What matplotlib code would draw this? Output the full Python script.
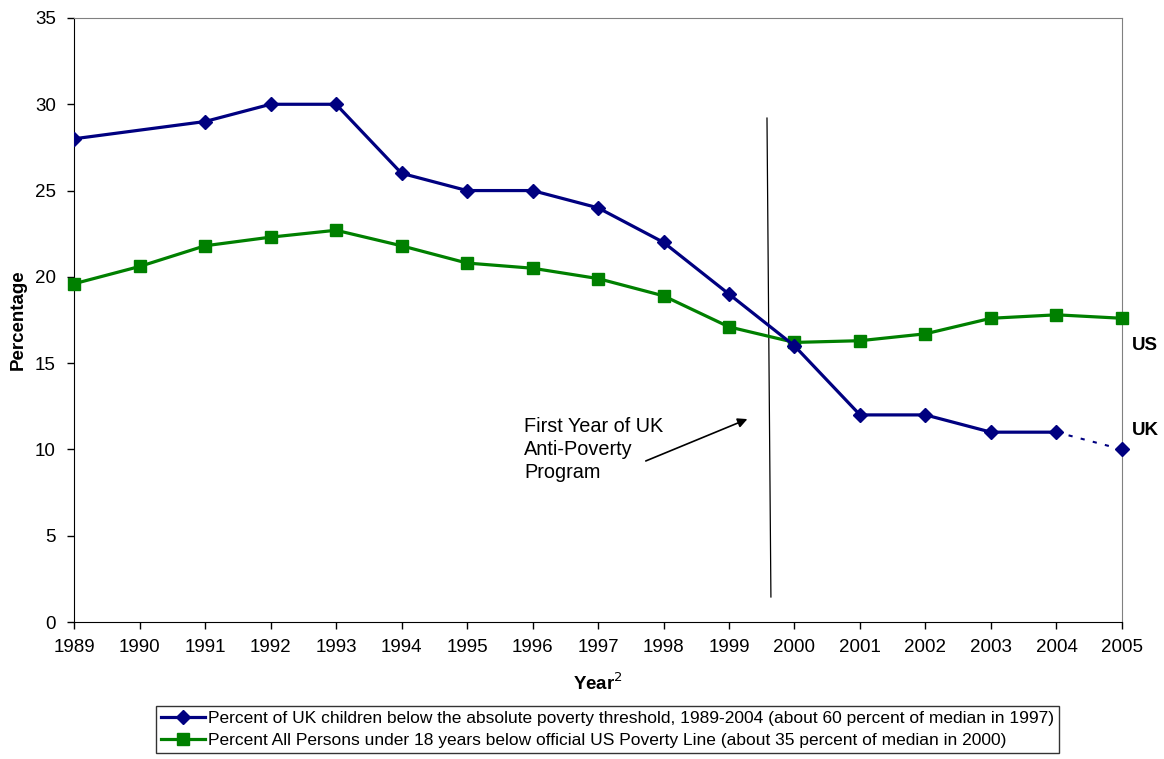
import numpy as np
import matplotlib.pyplot as plt

plt.rcParams['font.family'] = ['Liberation Sans', 'DejaVu Sans']

years = [1989, 1990, 1991, 1992, 1993, 1994, 1995, 1996, 1997,
         1998, 1999, 2000, 2001, 2002, 2003, 2004, 2005]

# UK series: no 1990 point, 2005 shown as a dotted projection
uk_years = [1989, 1991, 1992, 1993, 1994, 1995, 1996, 1997,
            1998, 1999, 2000, 2001, 2002, 2003, 2004]
uk_values = [28, 29, 30, 30, 26, 25, 25, 24, 22, 19, 16, 12, 12, 11, 11]
uk_proj_years = [2004, 2005]
uk_proj_values = [11, 10]

us_values = [19.6, 20.6, 21.8, 22.3, 22.7, 21.8, 20.8, 20.5, 19.9,
             18.9, 17.1, 16.2, 16.3, 16.7, 17.6, 17.8, 17.6]

uk_label = ("Percent of UK children below the absolute poverty threshold, "
            "1989-2004 (about 60 percent of median in 1997)")
us_label = ("Percent All Persons under 18 years below official US Poverty "
            "Line (about 35 percent of median in 2000)")

navy = '#000080'
green = '#008000'
fs = 13.5

fig = plt.figure(figsize=(11.64, 7.59), dpi=100)
ax = fig.add_axes([0.0636, 0.1805, 0.9003, 0.7958])

ax.plot(uk_years, uk_values, color=navy, lw=2.3, marker='D', ms=7.5,
        label=uk_label, zorder=4)
ax.plot(uk_proj_years, uk_proj_values, color=navy, lw=1.5, ls=(0, (2, 4)),
        zorder=3)
ax.plot(uk_proj_years[1:], uk_proj_values[1:], color=navy, ls='none',
        marker='D', ms=7.5, zorder=4, clip_on=False)
ax.plot(years, us_values, color=green, lw=2.3, marker='s', ms=9,
        label=us_label, zorder=3, clip_on=False)

# program start marker line and note
ax.plot([1999.58, 1999.64], [29.2, 1.45], color='black', lw=0.9, zorder=2)
ax.annotate('', xy=(1999.32, 11.82), xytext=(1997.69, 9.27),
            arrowprops=dict(arrowstyle='-|>', color='black', lw=1.2,
                            mutation_scale=14))
ax.text(1995.87, 11.9, 'First Year of UK\nAnti-Poverty\nProgram',
        fontsize=14.3, va='top', ha='left', linespacing=1.28)

ax.text(2005.15, 16.0, 'US', fontsize=fs, fontweight='bold',
        va='center', ha='left', clip_on=False)
ax.text(2005.15, 11.1, 'UK', fontsize=fs, fontweight='bold',
        va='center', ha='left', clip_on=False)

ax.set_xlim(1989, 2005)
ax.set_ylim(0, 35)
ax.set_xticks(years)
ax.set_yticks(np.arange(0, 36, 5))
ax.tick_params(labelsize=fs, direction='out', length=5, width=1)
ax.tick_params(axis='x', pad=7)
ax.tick_params(axis='y', pad=8)

for side in ('top', 'right'):
    ax.spines[side].set_color('#808080')
for side in ('left', 'bottom'):
    ax.spines[side].set_color('black')

ax.set_ylabel('Percentage', fontsize=fs, fontweight='bold', labelpad=6)
ax.set_xlabel('Year$^2$', fontsize=fs, fontweight='bold', labelpad=12)

fig.legend(loc='upper center', bbox_to_anchor=(0.522, 0.0698),
           borderaxespad=0, fontsize=12.5, frameon=True, fancybox=False,
           edgecolor='black', borderpad=0.3, handlelength=2.5,
           handletextpad=0.2, labelspacing=0.35)

fig.savefig('out.png', dpi=100)
